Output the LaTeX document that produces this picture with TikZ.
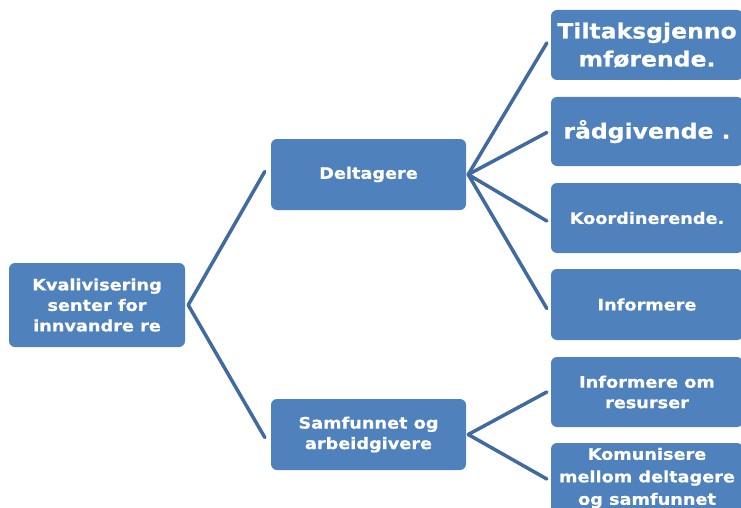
\documentclass[tikz,border=0pt]{standalone}
\usepackage{fontspec}
\newfontfamily\boxfont[FakeStretch=1.12,FakeBold=0.6]{DejaVu Sans}
\definecolor{boxblue}{RGB}{79,129,189}
\definecolor{lineblue}{RGB}{65,106,160}
\begin{document}
\begin{tikzpicture}[x=1pt,y=-1pt,
  box/.style={fill=boxblue, draw=none, rounded corners=6pt, text=white,
    font=\boxfont\bfseries\fontsize{15.8}{20.5}\selectfont, align=center,
    inner sep=0pt},
  bigtext/.style={font=\boxfont\bfseries\fontsize{21}{28}\selectfont},
  conn/.style={draw=lineblue, line width=3.5pt, line cap=round}]
\useasboundingbox (0,0) rectangle (741,508);
\clip (0,0) rectangle (741,508);
\fill[white] (0,0) rectangle (741,508);
% root
\node[box, minimum width=176pt, minimum height=84pt] (root) at (97,305) {Kvalivisering\\senter for\\innvandre re};
% level 2
\node[box, minimum width=195pt, minimum height=71pt] (delt) at (368.5,174.5) {Deltagere};
\node[box, minimum width=195pt, minimum height=71pt] (samf) at (368.5,434.5) {Samfunnet og\\arbeidgivere};
% level 3
\node[box, bigtext, minimum width=192pt, minimum height=70pt] (tilt) at (647,45) {Tiltaksgjenno\\mførende.};
\node[box, bigtext, minimum width=192pt, minimum height=69pt] (rad) at (647,131.5) {rådgivende .};
\node[box, minimum width=192pt, minimum height=70pt] (koord) at (647,218) {Koordinerende.};
\node[box, minimum width=192pt, minimum height=71pt] (info) at (647,304.5) {Informere};
\node[box, minimum width=192pt, minimum height=70pt] (infres) at (647,392) {Informere om\\resurser};
\node[box, font=\boxfont\bfseries\fontsize{15.8}{22.5}\selectfont, minimum width=192pt, minimum height=70pt] (komm) at (647,478) {Komunisere\\mellom deltagere\\og samfunnet};
% connectors
\draw[conn] ([xshift=3pt]root.east) -- ([xshift=-6pt,yshift=3pt]delt.west);
\draw[conn] ([xshift=3pt]root.east) -- ([xshift=-6pt,yshift=-3pt]samf.west);
\draw[conn] ([xshift=2pt]delt.east) -- ([xshift=-4pt,yshift=2pt]tilt.west);
\draw[conn] ([xshift=2pt]delt.east) -- ([xshift=-4pt,yshift=-1pt]rad.west);
\draw[conn] ([xshift=2pt]delt.east) -- ([xshift=-4pt,yshift=-3pt]koord.west);
\draw[conn] ([xshift=2pt]delt.east) -- ([xshift=-4pt,yshift=-4pt]info.west);
\draw[conn] ([xshift=2pt]samf.east) -- ([xshift=-4pt]infres.west);
\draw[conn] ([xshift=2pt]samf.east) -- ([xshift=-4pt,yshift=-1pt]komm.west);
\end{tikzpicture}
\end{document}
